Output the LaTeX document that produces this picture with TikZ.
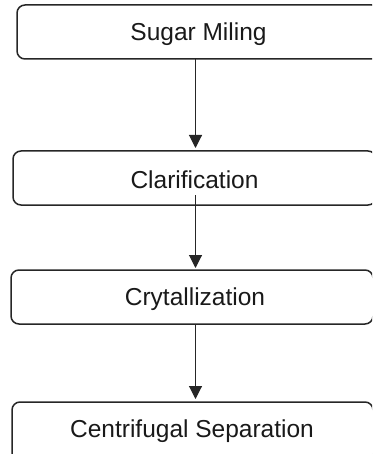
\documentclass[tikz,border=0pt]{standalone}
\usepackage{fontspec}
\setmainfont{Liberation Sans}
\usetikzlibrary{arrows.meta}
\begin{document}
\begin{tikzpicture}[x=1pt,y=-1pt,
  stepbox/.style={draw=black!85,line width=1.5pt,rounded corners=8pt},
  lbl/.style={font=\fontsize{24.5}{28}\selectfont,text=black!90,anchor=center,inner sep=0pt},
  conn/.style={draw=black!85,line width=1.1pt,-{Triangle[width=13pt,length=13pt]}}]
\useasboundingbox (0,0) rectangle (372,454);
\clip (0,0) rectangle (372,454);
\draw[stepbox] (17,5) rectangle (380,59);
\draw[stepbox] (13,151) rectangle (376,205);
\draw[stepbox] (11,270) rectangle (373,324);
\draw[stepbox] (12,402) rectangle (373,462);
\node[lbl] (t1) at (198.5,34) {Sugar Miling};
\node[lbl] (t2) at (194.5,180) {Clarification};
\node[lbl] (t3) at (195,299) {Crytallization};
\node[lbl] (t4) at (192,431) {Centrifugal Separation};
\coordinate (a1s) at (195.5,59);
\coordinate (a1e) at (195.5,148);
\coordinate (a2s) at (195.5,195);
\coordinate (a2e) at (195.5,268);
\coordinate (a3s) at (195.5,324);
\coordinate (a3e) at (195.5,399);
\draw[conn] (a1s) -- (a1e);
\draw[conn] (a2s) -- (a2e);
\draw[conn] (a3s) -- (a3e);
\end{tikzpicture}
\end{document}
